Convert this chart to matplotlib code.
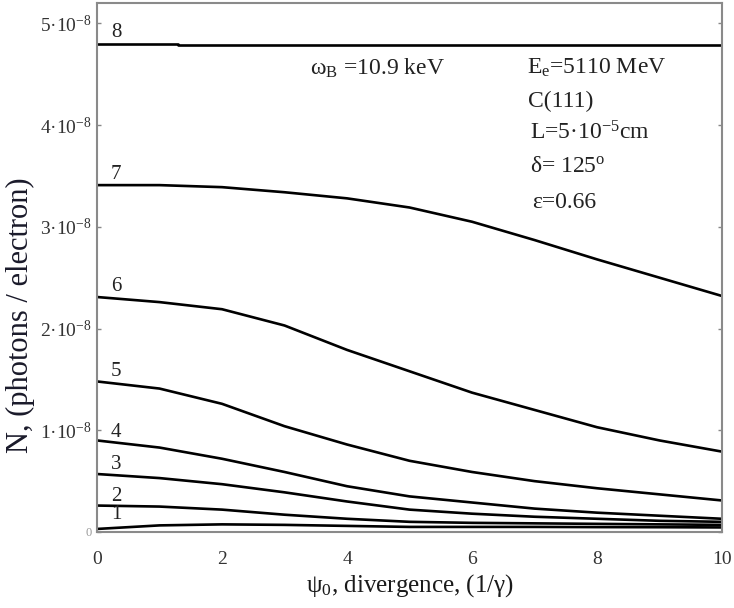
import matplotlib.pyplot as plt
import numpy as np

plt.rcParams['font.family'] = ['Liberation Serif', 'DejaVu Serif']
plt.rcParams['mathtext.fontset'] = 'custom'
plt.rcParams['mathtext.rm'] = 'Liberation Serif'
plt.rcParams['mathtext.it'] = 'Liberation Serif:italic'

# divergence psi_0 in units of 1/gamma
psi = [0, 1, 2, 3, 4, 5, 6, 7, 8, 9, 10]
# photon yield per electron, units of 1e-8
n1 = [0.03, 0.065, 0.075, 0.07, 0.06, 0.05, 0.05, 0.05, 0.048, 0.047, 0.045]
n2 = [0.26, 0.25, 0.22, 0.17, 0.13, 0.10, 0.09, 0.085, 0.08, 0.075, 0.07]
n3 = [0.57, 0.53, 0.47, 0.39, 0.30, 0.22, 0.18, 0.15, 0.13, 0.11, 0.10]
n4 = [0.90, 0.83, 0.72, 0.59, 0.45, 0.35, 0.29, 0.23, 0.19, 0.16, 0.13]
n5 = [1.48, 1.41, 1.26, 1.04, 0.86, 0.70, 0.59, 0.50, 0.43, 0.37, 0.31]
n6 = [2.31, 2.26, 2.19, 2.03, 1.79, 1.58, 1.37, 1.20, 1.03, 0.90, 0.79]
n7 = [3.41, 3.41, 3.39, 3.34, 3.28, 3.19, 3.05, 2.87, 2.68, 2.50, 2.32]
psi8 = [0, 1.3, 1.3, 10]
n8 = [4.80, 4.80, 4.785, 4.785]

curves = [(psi, n1), (psi, n2), (psi, n3), (psi, n4), (psi, n5), (psi, n6), (psi, n7), (psi8, n8)]
labels = ['1', '2', '3', '4', '5', '6', '7', '8']
label_y = [0.17, 0.35, 0.66, 0.98, 1.58, 2.41, 3.51, 4.91]

fig = plt.figure(figsize=(7.34, 6.08), dpi=100)
ax = fig.add_axes([0.1322, 0.125, 0.8515, 0.870])

for (xs, ys), lab, ly in zip(curves, labels, label_y):
    ax.plot(xs, np.array(ys) * 1e-8, color='black', linewidth=1.9)
    ax.text(0.22, ly * 1e-8, lab, fontsize=15, color='#222222', ha='left', va='center')

ax.set_xlim(0, 10)
ax.set_ylim(0, 5.2e-8)
ax.set_xticks([0, 2, 4, 6, 8, 10])
ax.set_xticklabels(['0', '2', '4', '6', '8', '10'], fontsize=14, color='#333333')
yt = [0, 1e-8, 2e-8, 3e-8, 4e-8, 5e-8]
ax.set_yticks(yt)
ax.set_yticklabels(['0'] + ['%d·10$^{-8}$' % k for k in range(1, 6)], fontsize=14, color='#333333')
ax.get_yticklabels()[0].set_fontsize(9)
ax.get_yticklabels()[0].set_color('#999999')
ax.tick_params(axis='x', length=0, pad=14)
ax.tick_params(axis='y', direction='in', length=3, width=1, color='#888888', right=True, pad=4)

for s in ax.spines.values():
    s.set_color('#8a8a8a')
    s.set_linewidth(1.5)

ax.set_xlabel('ψ$_{0}$, divergence, (1/γ)', fontsize=18, color='#1a1a1a', labelpad=3)
ax.set_ylabel('N, (photons / electron)', fontsize=22, color='#1a1a2a')
ax.yaxis.set_label_coords(-0.10, 0.41)

ax.text(3.4, 4.56e-8, 'ω$_{\\mathrm{B}}$ =10.9 keV', fontsize=17, color='#222222', va='center')
ax.text(6.88, 4.56e-8, 'E$_{\\mathrm{e}}$=5110 MeV', fontsize=17, color='#222222', va='center')
ax.text(6.9, 4.23e-8, 'C(111)', fontsize=17, color='#222222', va='center')
ax.text(6.93, 3.92e-8, 'L=5·10$^{-5}$cm', fontsize=17, color='#222222', va='center')
ax.text(6.93, 3.59e-8, 'δ= 125$^{\\mathrm{o}}$', fontsize=17, color='#222222', va='center')
ax.text(6.96, 3.24e-8, 'ε=0.66', fontsize=17, color='#222222', va='center')

plt.savefig('out.png', dpi=100)
